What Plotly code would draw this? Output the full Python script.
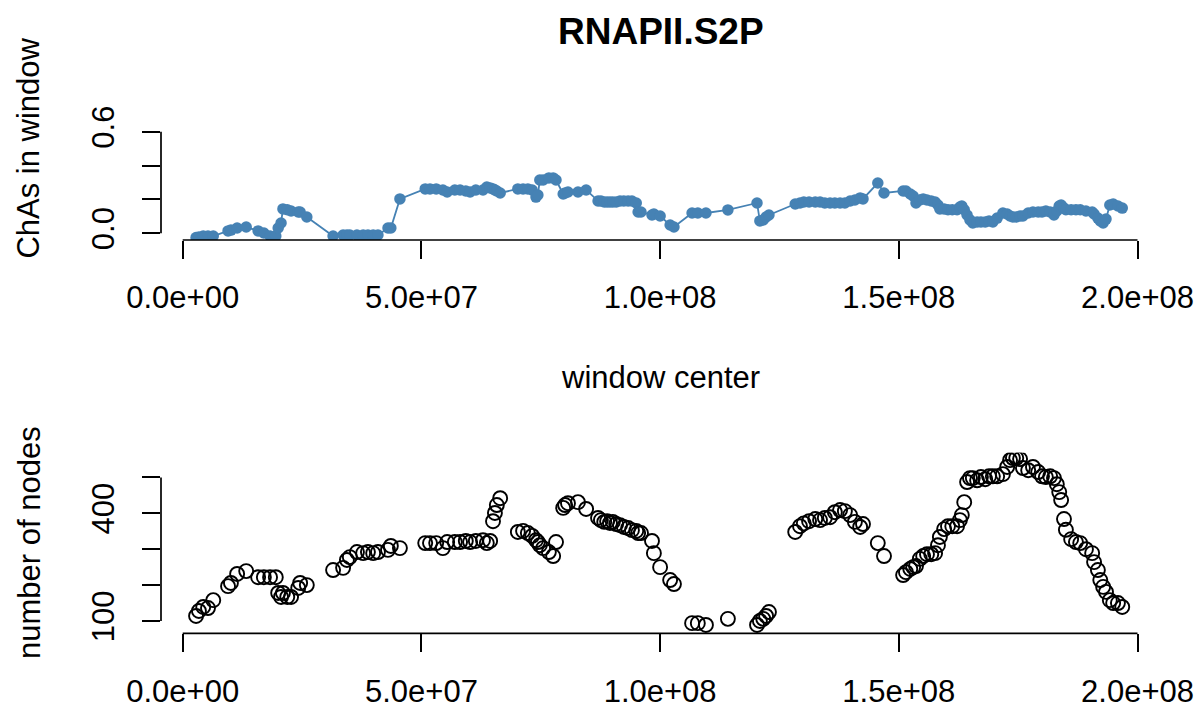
import numpy as np
import plotly.graph_objects as go

# ---------------- data ----------------
window_center_mb = [
    2.8, 3.4, 4.3, 5.3, 6.4, 9.5, 10.1, 11.4, 13.3, 15.8, 17.0, 18.3, 19.5, 20.0, 20.6, 21.0, 21.9, 22.7, 24.2, 24.6, 26.0,
    31.5, 33.6, 34.4, 35.0, 36.5, 37.8, 38.8, 39.9, 40.9, 43.0, 43.6, 45.5,
    50.8, 51.8, 53.1, 54.5, 55.4, 57.0, 58.1, 59.3, 60.2, 61.4, 62.9, 63.7, 64.4, 65.0, 65.4, 65.8, 66.5,
    70.2, 71.3, 72.3, 73.2, 74.0, 74.4, 74.8, 75.5, 76.7, 77.6, 78.2,
    79.7, 80.1, 80.7, 82.8, 84.5,
    87.0, 87.6, 88.3, 88.9, 89.5, 90.1, 90.8, 91.6, 92.4, 93.3, 94.1, 95.0, 95.4, 96.0,
    98.3, 98.7, 100.0, 102.1, 102.9,
    106.7, 107.9, 109.6, 114.2, 120.3, 120.9, 121.6, 122.2, 122.8,
    128.3, 129.3, 130.1, 131.2, 132.5, 133.5, 134.5, 135.6, 136.6, 137.7, 138.7, 139.8, 140.8, 141.9, 142.5,
    145.6, 146.9,
    150.9, 151.5, 152.4, 153.0, 153.6, 154.4, 155.1, 155.9, 156.8, 157.6, 158.2, 158.6, 159.5, 160.3, 161.2, 162.2,
    162.8, 163.2, 163.7, 164.3, 164.9, 165.5, 166.4, 167.2, 168.1, 168.9, 169.7, 170.6, 171.8, 172.7, 173.3, 173.9,
    174.6, 175.4, 176.0, 177.1, 178.1, 179.2, 180.0, 180.8, 181.7, 182.5, 183.1, 183.6, 184.0, 184.6, 185.0, 186.1,
    187.1, 188.0, 189.2, 190.5, 190.9, 191.7, 192.2, 192.8, 193.4, 194.2, 194.9, 195.9, 196.8,
]

chas_in_window = [
    -0.025, -0.022, -0.016, -0.016, -0.016, 0.014, 0.019, 0.031, 0.037, 0.014, 0.002, -0.016, -0.016, 0.031, 0.061,
    0.144, 0.139, 0.132, 0.126, 0.126, 0.096,
    -0.016, -0.010, -0.010, -0.010, -0.010, -0.010, -0.010, -0.010, -0.010, 0.031, 0.031, 0.203,
    0.262, 0.262, 0.262, 0.256, 0.244, 0.256, 0.256, 0.250, 0.244, 0.256, 0.256, 0.273, 0.268, 0.262, 0.256, 0.250, 0.238,
    0.262, 0.262, 0.262, 0.256, 0.214, 0.226, 0.315, 0.315, 0.327, 0.327, 0.315,
    0.232, 0.238, 0.244, 0.244, 0.256,
    0.191, 0.191, 0.185, 0.185, 0.185, 0.185, 0.185, 0.191, 0.191, 0.191, 0.191, 0.179, 0.126, 0.126,
    0.108, 0.114, 0.102, 0.049, 0.037,
    0.120, 0.120, 0.120, 0.138, 0.179, 0.073, 0.079, 0.096, 0.108,
    0.173, 0.179, 0.185, 0.185, 0.185, 0.185, 0.179, 0.179, 0.179, 0.179, 0.179, 0.191, 0.197, 0.209, 0.203,
    0.297, 0.238,
    0.250, 0.250, 0.232, 0.220, 0.179, 0.197, 0.203, 0.197, 0.191, 0.185, 0.167, 0.144, 0.144, 0.139, 0.139, 0.139,
    0.155, 0.161, 0.139, 0.108, 0.079, 0.061, 0.067, 0.067, 0.067, 0.073, 0.067, 0.090, 0.120, 0.114, 0.102, 0.096,
    0.096, 0.102, 0.102, 0.120, 0.126, 0.126, 0.126, 0.132, 0.126, 0.108, 0.132, 0.161, 0.167, 0.149, 0.139, 0.139,
    0.139, 0.139, 0.132, 0.126, 0.114, 0.090, 0.073, 0.061, 0.084, 0.167, 0.173, 0.161, 0.149,
]

number_of_nodes = [
    114, 128, 139, 136, 158, 197, 206, 231, 239, 222, 222, 222, 222, 178, 167, 178, 167, 167, 192, 206, 200,
    242, 248, 270, 278, 292, 289, 292, 289, 292, 298, 309, 303,
    317, 317, 317, 303, 320, 320, 320, 323, 320, 323, 325, 317, 323, 378, 401, 423, 442,
    348, 351, 345, 337, 325, 320, 311, 303, 292, 281, 320,
    415, 423, 428, 431, 412,
    387, 381, 376, 378, 373, 376, 370, 367, 362, 359, 353, 351, 345, 345,
    323, 289, 250, 214, 203,
    94, 94, 89, 106, 89, 100, 106, 114, 125,
    348, 364, 372, 378, 384, 381, 387, 389, 403, 409, 406, 395, 376, 362, 370,
    317, 281,
    228, 236, 245, 250, 253, 273, 281, 286, 286, 289, 311, 334, 356, 364, 364, 364,
    381, 395, 431, 487, 498, 498, 492, 501, 495, 503, 503, 503, 509, 529, 548, 554,
    554, 551, 526, 520, 529, 515, 503, 501, 503, 498, 481, 459, 437, 384, 354, 328,
    320, 317, 300, 289, 264, 242, 214, 195, 181, 158, 150, 150, 139,
]

x_tick_vals = [0, 5e7, 1e8, 1.5e8, 2e8]
x_tick_text = ["0.0e+00", "5.0e+07", "1.0e+08", "1.5e+08", "2.0e+08"]
y1_tick_vals = [0.0, 0.2, 0.4, 0.6]
y1_tick_text = ["0.0", "", "", "0.6"]
y2_tick_vals = [100, 200, 300, 400, 500]
y2_tick_text = ["100", "", "", "400", ""]

title_text = "RNAPII.S2P"
y1_label = "ChAs in window"
y2_label = "number of nodes"
x1_label = "window center"

# ---------------- figure ----------------
W, H = 1200, 709
FONT = "Liberation Sans, Arial, Helvetica, sans-serif"
STEEL = "#4682B4"

x_bp = np.array(window_center_mb) * 1e6


def px(p):
    return p / W


def py(p):
    return 1 - p / H


x_dom = [px(161), px(1160)]
x_rng = [-4.545e6, 2.0471e8]

fig = go.Figure()
fig.add_trace(go.Scatter(
    x=x_bp, y=chas_in_window, mode="lines+markers",
    line=dict(color=STEEL, width=1.8),
    marker=dict(color=STEEL, size=11.5),
    xaxis="x", yaxis="y", hoverinfo="skip",
))
fig.add_trace(go.Scatter(
    x=x_bp, y=number_of_nodes, mode="markers",
    marker=dict(symbol="circle-open", color="black", size=14, line=dict(width=1.9, color="black")),
    xaxis="x2", yaxis="y2", hoverinfo="skip",
))

tick_common = dict(
    showgrid=False, zeroline=False, showline=False, automargin=False,
    ticks="outside", ticklen=18, tickwidth=1.7, tickcolor="black",
    tickfont=dict(family=FONT, size=31, color="black"),
    tickmode="array", fixedrange=True,
)

fig.update_layout(
    width=W, height=H,
    margin=dict(l=0, r=0, t=0, b=0, autoexpand=False),
    paper_bgcolor="white", plot_bgcolor="white",
    showlegend=False,
    xaxis=dict(domain=x_dom, range=x_rng, anchor="y", tickvals=x_tick_vals, ticktext=x_tick_text,
               ticklabelstandoff=12, **tick_common),
    yaxis=dict(domain=[py(240), py(57.2)], range=[-0.0396, 1.0402], anchor="x",
               tickvals=y1_tick_vals, ticktext=y1_tick_text, tickangle=-90,
               ticklabelstandoff=16, **tick_common),
    xaxis2=dict(domain=x_dom, range=x_rng, anchor="y2", tickvals=x_tick_vals, ticktext=x_tick_text,
                ticklabelstandoff=12, **tick_common),
    yaxis2=dict(domain=[py(633.3), py(452.7)], range=[65.7, 568.8], anchor="x2",
                tickvals=y2_tick_vals, ticktext=y2_tick_text, tickangle=-90,
                ticklabelstandoff=16, **tick_common),
)

line_style = dict(color="black", width=1.7)
shapes = [
    dict(type="line", xref="x", yref="y domain", x0=x_tick_vals[0], x1=x_tick_vals[-1], y0=0, y1=0, line=line_style),
    dict(type="line", xref="x domain", yref="y", x0=0, x1=0, y0=y1_tick_vals[0], y1=y1_tick_vals[-1], line=line_style),
    dict(type="line", xref="x2", yref="y2 domain", x0=x_tick_vals[0], x1=x_tick_vals[-1], y0=0, y1=0, line=line_style),
    dict(type="line", xref="x2 domain", yref="y2", x0=0, x1=0, y0=y2_tick_vals[0], y1=y2_tick_vals[-1], line=line_style),
]
fig.update_layout(shapes=shapes)

annotations = [
    dict(text=f"<b>{title_text}</b>", x=px(660.5), y=py(31.5), xref="paper", yref="paper",
         xanchor="center", yanchor="middle", showarrow=False,
         font=dict(family=FONT, size=37, color="black")),
    dict(text=x1_label, x=px(660.5), y=py(378), xref="paper", yref="paper",
         xanchor="center", yanchor="middle", showarrow=False,
         font=dict(family=FONT, size=31, color="black")),
    dict(text=y1_label, x=px(29), y=py(148.6), xref="paper", yref="paper", textangle=-90,
         xanchor="center", yanchor="middle", showarrow=False,
         font=dict(family=FONT, size=31, color="black")),
    dict(text=y2_label, x=px(29), y=py(543), xref="paper", yref="paper", textangle=-90,
         xanchor="center", yanchor="middle", showarrow=False,
         font=dict(family=FONT, size=31, color="black")),
]
fig.update_layout(annotations=annotations)

fig.write_html("out.html")
